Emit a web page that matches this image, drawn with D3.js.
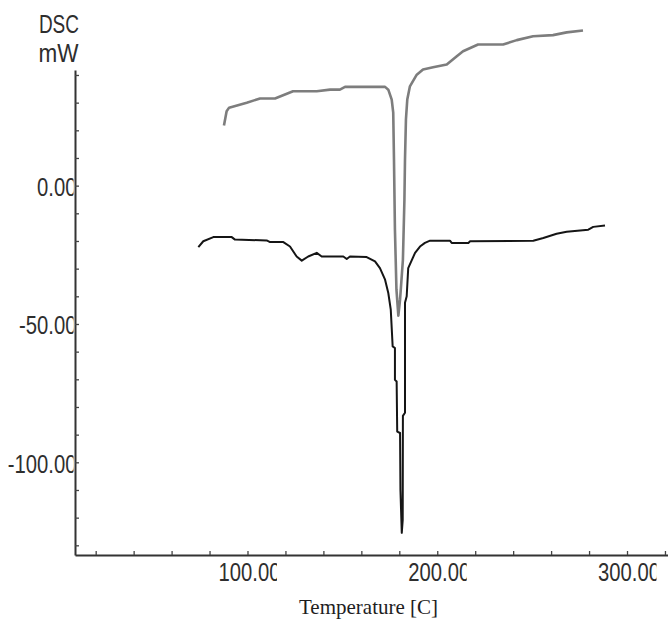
<!DOCTYPE html>
<html>
<head>
<meta charset="utf-8">
<script src="https://cdn.jsdelivr.net/npm/d3@7"></script>
<style>
  html, body { margin: 0; padding: 0; background: #fff; }
  svg { display: block; }
</style>
</head>
<body>
<svg id="chart" width="668" height="623"></svg>
<script>
// ---- data (temperature in °C, heat flow in mW) ----
const greyTemp = [87.6, 89.0, 90.3, 99.6, 106.6, 114.5, 124.0, 136.5, 143.5, 148.7, 151.4, 172.5, 174.2, 176.0, 176.8, 177.2, 177.7, 178.5, 179.5, 180.4, 181.9, 182.7, 183.0, 183.5, 184.2, 185.6, 189.2, 192.5, 197.8, 205.0, 210.3, 213.6, 221.5, 234.7, 241.9, 250.5, 261.0, 268.2, 276.8];
const greyDSC  = [21.7, 26.9, 28.2, 30.0, 31.5, 31.5, 34.1, 34.1, 34.7, 34.7, 35.7, 35.7, 34.7, 31.1, 26.4, 9.4, -15.9, -37.6, -47.0, -41.2, -26.8, -5.1, 9.4, 23.9, 31.1, 35.9, 40.1, 42.0, 42.8, 43.8, 46.8, 48.6, 51.0, 51.0, 52.6, 54.0, 54.4, 55.4, 56.1];

const blackTemp = [74.1, 76.7, 82.0, 91.7, 93.4, 110.1, 111.9, 118.9, 122.4, 125.9, 128.6, 132.0, 136.5, 139.1, 150.5, 152.3, 154.0, 162.8, 167.2, 169.8, 172.5, 174.2, 175.5, 176.5, 177.7, 177.7, 178.6, 178.9, 180.4, 180.6, 181.3, 181.8, 181.9, 183.0, 183.0, 183.9, 184.7, 188.3, 190.9, 193.5, 196.2, 206.7, 207.6, 216.4, 217.3, 250.6, 255.9, 262.9, 268.2, 279.6, 282.2, 288.4];
const blackDSC  = [-22.2, -20.1, -18.6, -18.6, -19.5, -19.8, -20.4, -20.4, -22.0, -25.6, -27.1, -25.6, -24.3, -25.6, -25.6, -26.5, -25.6, -25.8, -27.4, -29.8, -34.0, -38.8, -44.8, -58.1, -58.7, -70.2, -70.8, -88.9, -89.4, -109.9, -125.5, -120.8, -83.2, -82.1, -42.3, -40.0, -29.8, -24.3, -22.0, -20.7, -19.9, -19.9, -20.7, -20.7, -20.1, -19.9, -18.9, -17.4, -16.7, -15.9, -14.9, -14.4];

const xTickValues = [100, 200, 300];
const xTickLabels = ["100.00", "200.00", "300.00"];
const yTickValues = [0, -50, -100];
const yTickLabels = ["0.00", "-50.00", "-100.00"];
const yAxisTitle = ["DSC", "mW"];
const xAxisTitle = "Temperature [C]";

// ---- layout ----
const svg = d3.select("#chart");
const plotL = 75, plotR = 668, plotT = 70, plotB = 555;
const x = d3.scaleLinear().domain([9.1, 321.6]).range([plotL, plotR]);
const y = d3.scaleLinear().domain([-133.5, 41.8]).range([plotB, plotT]);

const defs = svg.append("defs");
const sansFont = "'Liberation Sans', Arial, sans-serif";
const textCol = "#2e2e2e";
const squeeze = 0.81;   // the original's lettering is horizontally condensed

// ---- curves ----
const line = d3.line().x(d => x(d[0])).y(d => y(d[1]));
const greyData = greyTemp.map((t, i) => [t, greyDSC[i]]);
const blackData = blackTemp.map((t, i) => [t, blackDSC[i]]);

svg.append("path").attr("d", line(greyData))
  .attr("fill", "none").attr("stroke", "#7d7d7d").attr("stroke-width", 2.6)
  .attr("stroke-linejoin", "round");
svg.append("path").attr("d", line(blackData))
  .attr("fill", "none").attr("stroke", "#151515").attr("stroke-width", 2)
  .attr("stroke-linejoin", "round");

// ---- axes ----
const xAxis = d3.axisTop(x)
  .tickValues(d3.range(20, 321, 20))
  .tickSize(4).tickSizeOuter(0).tickFormat("");
const gx = svg.append("g").attr("transform", `translate(0,${plotB})`).call(xAxis);
gx.select(".domain").attr("stroke", "#333").attr("stroke-width", 2);
gx.selectAll(".tick line").attr("stroke", "#444").attr("stroke-width", 1.3);

const yAxis = d3.axisRight(y)
  .tickValues(d3.range(-130, 41, 10))
  .tickSize(4).tickSizeOuter(0).tickFormat("");
const gy = svg.append("g").attr("transform", `translate(${plotL},0)`).call(yAxis);
gy.select(".domain").attr("stroke", "#333").attr("stroke-width", 2);
gy.selectAll(".tick line").attr("stroke", "#444").attr("stroke-width", 1.3);

// ---- y tick labels (last glyph partially hidden by the axis, as in the original) ----
defs.append("clipPath").attr("id", "yclip")
  .append("rect").attr("x", 0).attr("y", 0).attr("width", plotL - 1.5).attr("height", 623);
const gyl = svg.append("g").attr("clip-path", "url(#yclip)");
yTickValues.forEach((v, i) => {
  gyl.append("text")
    .attr("transform", `translate(76.5,${y(v) + 10.5}) scale(${squeeze},1)`)
    .attr("text-anchor", "end")
    .attr("font-family", sansFont).attr("font-size", 25)
    .attr("fill", textCol)
    .text(yTickLabels[i]);
});

// ---- x tick labels ----
xTickValues.forEach((v, i) => {
  const cx = x(v) + 2;
  defs.append("clipPath").attr("id", "xclip" + i)
    .append("rect").attr("x", cx - 34).attr("y", 540).attr("width", 61.5).attr("height", 60);
  svg.append("g").attr("clip-path", `url(#xclip${i})`)
    .append("text")
    .attr("transform", `translate(${cx},${plotB + 25.5}) scale(${squeeze},1)`)
    .attr("text-anchor", "middle")
    .attr("font-family", sansFont).attr("font-size", 25)
    .attr("fill", textCol)
    .text(xTickLabels[i]);
});

// ---- axis titles ----
svg.append("text")
  .attr("transform", "translate(79,33.3) scale(0.76,1)")
  .attr("text-anchor", "end")
  .attr("font-family", sansFont).attr("font-size", 25).attr("fill", textCol)
  .text(yAxisTitle[0]);
svg.append("text")
  .attr("transform", "translate(78.5,61.7) scale(0.9,1)")
  .attr("text-anchor", "end")
  .attr("font-family", sansFont).attr("font-size", 25).attr("fill", textCol)
  .text(yAxisTitle[1]);

svg.append("text")
  .attr("transform", "translate(368.5,614) scale(1.0,1)")
  .attr("text-anchor", "middle")
  .attr("font-family", "'Liberation Serif', 'Times New Roman', serif")
  .attr("font-size", 21).attr("fill", "#1e1e1e")
  .text(xAxisTitle);
</script>
</body>
</html>
